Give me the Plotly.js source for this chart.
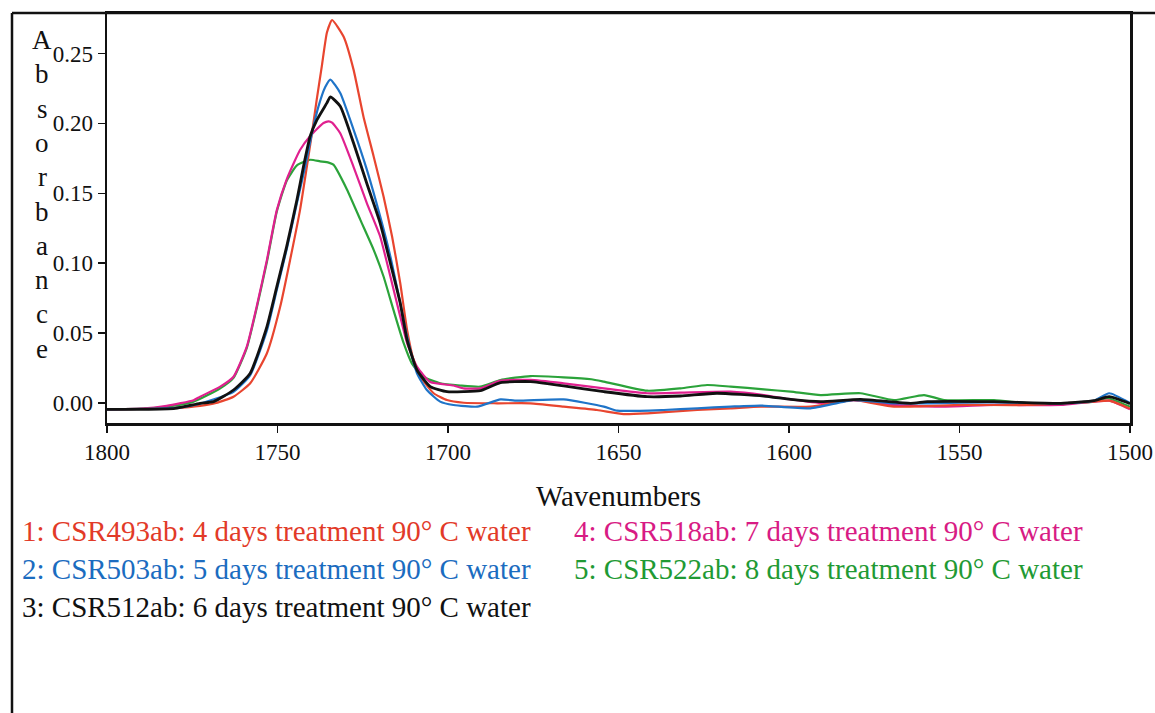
<!DOCTYPE html>
<html>
<head>
<meta charset="utf-8">
<script src="https://cdn.plot.ly/plotly-3.0.1.min.js"></script>
<style>html,body{margin:0;padding:0;background:#fff;}#chart{width:1155px;height:713px;}</style>
</head>
<body>
<div id="chart"></div>
<script>
// Series 1: CSR493ab (red)
const wn1 = [1800,1790,1780,1772.7,1768,1762.9,1758,1753.1,1749.2,1746.3,1743.4,1741.4,1739.9,1738.5,1737,1735.5,1734,1730.6,1727.7,1724.8,1721.8,1718.9,1716.4,1714,1712,1710.1,1708.1,1704.2,1700.3,1695.4,1685.6,1675.8,1666.1,1656.3,1648.5,1641.6,1626.9,1617.1,1608.3,1593.7,1581.1,1569.2,1549.6,1530,1510.5,1506.1,1500];
const ab1 = [-0.0045,-0.0042,-0.0035,-0.002,0.000,0.0045,0.0141,0.0356,0.069,0.1024,0.138,0.169,0.193,0.217,0.241,0.265,0.274,0.262,0.2385,0.205,0.1764,0.1478,0.1191,0.0857,0.0523,0.0308,0.0188,0.007,0.0021,0.0002,-0.0002,-0.0002,-0.0026,-0.005,-0.0079,-0.0074,-0.005,-0.0038,-0.0026,-0.0026,0.0021,-0.0026,-0.0014,-0.0014,0.001,0.0017,-0.004];
// Series 2: CSR503ab (blue)
const wn2 = [1800,1790,1780,1772.7,1762.9,1758,1753.1,1750.2,1747.3,1744.3,1741.9,1739.9,1738,1736,1734.5,1731.6,1727.7,1723.8,1719.9,1716.9,1714,1712,1709.1,1706.2,1702.3,1698.4,1691.4,1684.6,1679.7,1666.1,1654.3,1650.4,1636.7,1626.9,1617.1,1608.3,1593.7,1581.1,1569.2,1559.4,1539.9,1520.3,1510.5,1506.1,1500];
const ab2 = [-0.0045,-0.0042,-0.0035,-0.0005,0.008,0.020,0.052,0.081,0.110,0.143,0.169,0.193,0.212,0.226,0.2314,0.2218,0.1956,0.167,0.1335,0.1048,0.0714,0.0475,0.0213,0.0093,0.001,-0.0014,-0.0026,0.0026,0.0017,0.0026,-0.0026,-0.0055,-0.005,-0.0038,-0.0026,-0.0018,-0.0038,0.0021,-0.0002,-0.0002,0.0005,-0.0002,0.0017,0.007,0.000];
// Series 3: CSR512ab (black)
const wn3 = [1800,1790,1780,1772.7,1768.7,1762.9,1758,1753.1,1750.2,1747.3,1744.3,1742.4,1740.4,1738.4,1735.5,1734.5,1731.6,1727.7,1723.8,1719.9,1716.9,1714,1712,1709.1,1705.2,1700.3,1695.4,1690.5,1684.6,1675.8,1666.1,1654.3,1641.6,1631.8,1621.2,1607.4,1599.5,1590.7,1579,1564.3,1559.4,1539.9,1520.3,1510.5,1506.1,1500];
const ab3 = [-0.0045,-0.0045,-0.0038,-0.0002,0.001,0.0093,0.0213,0.0547,0.0833,0.112,0.1454,0.169,0.191,0.2027,0.2147,0.219,0.2123,0.186,0.157,0.1287,0.100,0.0714,0.0451,0.0236,0.0117,0.0081,0.0081,0.0088,0.0146,0.0153,0.0122,0.0081,0.0045,0.005,0.007,0.005,0.0026,0.001,0.0026,-0.0002,0.001,0.001,-0.0002,0.0017,0.0045,-0.0005];
// Series 4: CSR518ab (magenta)
const wn4 = [1800,1790,1782.5,1774.6,1772.7,1766.8,1762.9,1759,1756.1,1753.1,1750.2,1747.3,1743.4,1740.4,1736.5,1735,1734,1731.6,1727.7,1723.8,1719.9,1716.9,1714,1712,1709.1,1705.2,1698.4,1695.4,1690.5,1684.6,1675.8,1666.1,1654.3,1641.6,1631.8,1617.1,1607.4,1599.5,1590,1581.1,1569.2,1554.5,1539.9,1520.3,1506.1,1500];
const ab4 = [-0.0045,-0.004,-0.002,0.002,0.0045,0.0117,0.0188,0.0403,0.069,0.1024,0.138,0.16,0.181,0.191,0.2003,0.2015,0.2005,0.193,0.169,0.143,0.1191,0.0905,0.0618,0.0428,0.026,0.015,0.0125,0.0105,0.0105,0.016,0.0165,0.0141,0.0105,0.007,0.0074,0.0081,0.0057,0.0026,0.000,0.0021,-0.0014,-0.0026,-0.0014,-0.0014,0.0017,-0.0045];
// Series 5: CSR522ab (green)
const wn5 = [1800,1790,1782,1774.6,1766.8,1762.9,1759,1756.1,1753.1,1750.2,1747.3,1744.3,1740.4,1737.5,1735,1733.6,1729.6,1725.7,1721.8,1718.9,1716,1713,1710.6,1707.2,1702.3,1696.4,1690.5,1684.6,1675.8,1666.1,1658,1654.3,1641.6,1631.8,1624,1617.1,1607.4,1599.5,1590.7,1579,1569.2,1560.4,1554.5,1539.9,1530,1520.3,1510.5,1506.6,1500];
const ab5 = [-0.0045,-0.004,-0.0025,0.001,0.0105,0.018,0.0395,0.068,0.101,0.137,0.159,0.170,0.174,0.1729,0.172,0.1705,0.1526,0.131,0.1096,0.0905,0.0666,0.0428,0.0284,0.0188,0.0141,0.0125,0.0117,0.0165,0.0193,0.0184,0.017,0.0153,0.0088,0.0105,0.0129,0.0117,0.0098,0.0081,0.0057,0.007,0.0021,0.0057,0.0021,0.0021,-0.0002,-0.0002,0.001,0.0034,-0.0026];

const seriesNames = [
  "1: CSR493ab: 4 days treatment 90° C water",
  "2: CSR503ab: 5 days treatment 90° C water",
  "3: CSR512ab: 6 days treatment 90° C water",
  "4: CSR518ab: 7 days treatment 90° C water",
  "5: CSR522ab: 8 days treatment 90° C water"
];
const xTickVals = [1800,1750,1700,1650,1600,1550,1500];
const yTickVals = [0.00,0.05,0.10,0.15,0.20,0.25];
const xTitle = "Wavenumbers";
const yTitle = "Absorbance";

const lineColors = ["#e8452f","#1f74c8","#111111","#e0208f","#2ba33a"];
const textColors = ["#e23a28","#1b6cc0","#111111","#d81b84","#1f9a34"];
const xs = [wn1,wn2,wn3,wn4,wn5];
const ys = [ab1,ab2,ab3,ab4,ab5];
const widths = [2.2,2.2,2.8,2.2,2.2];
const order = [4,3,0,1,2];

const traces = order.map(i => ({
  x: xs[i], y: ys[i], type: "scatter", mode: "lines",
  name: seriesNames[i], showlegend: false,
  line: {color: lineColors[i], width: widths[i], shape: "spline", smoothing: 0.5}
}));

const L = 107, R = 25, T = 13, B = 290, W = 1155, H = 713;
const pw = W - L - R, ph = H - T - B;
const px = v => (v - L) / pw;
const py = v => (H - B - v) / ph;
const serif = "Liberation Serif, Times New Roman, serif";

const annotations = [];
yTitle.split("").forEach((ch, i) => {
  annotations.push({xref:"paper", yref:"paper", x: px(42), y: py(40 + i*34.3),
    xanchor:"center", yanchor:"middle", showarrow:false, text: ch,
    font:{family:serif, size:27, color:"#111"}});
});
const capPos = [[20,531],[20,569],[20,607],[572,531],[572,569]];
seriesNames.forEach((s, i) => {
  annotations.push({xref:"paper", yref:"paper", x: px(capPos[i][0]), y: py(capPos[i][1]),
    xanchor:"left", yanchor:"middle", showarrow:false, text: s,
    font:{family:serif, size:29, color:textColors[i]}});
});

const frameShapes = [
  {type:"line", xref:"paper", yref:"paper", x0:px(12), x1:px(1155), y0:py(13), y1:py(13), line:{color:"#111", width:2.5}},
  {type:"line", xref:"paper", yref:"paper", x0:px(12), x1:px(12), y0:py(13), y1:py(713), line:{color:"#111", width:2.5}}
];

const layout = {
  width: W, height: H,
  margin: {l:L, r:R, t:T, b:B, pad:0},
  paper_bgcolor:"#ffffff", plot_bgcolor:"#ffffff",
  font: {family:serif, color:"#111"},
  xaxis: {
    range:[1800,1500], tickvals:xTickVals, ticktext:xTickVals.map(String),
    ticks:"outside", ticklen:7, tickwidth:1.5, tickcolor:"#111",
    showline:true, mirror:true, linecolor:"#111", linewidth:2.5,
    showgrid:false, zeroline:false,
    tickfont:{size:23, color:"#111"},
    ticklabelstandoff: 0,
    title:{text:xTitle, font:{size:29, color:"#111"}, standoff:22}
  },
  yaxis: {
    range:[-0.0143, 0.279], tickvals:yTickVals, ticktext:yTickVals.map(v=>v.toFixed(2)),
    ticks:"outside", ticklen:7, tickwidth:1.5, tickcolor:"#111",
    showline:true, mirror:true, linecolor:"#111", linewidth:2.5,
    showgrid:false, zeroline:false,
    tickfont:{size:23, color:"#111"},
    ticklabelstandoff: 0
  },
  annotations: annotations,
  shapes: frameShapes
};

Plotly.newPlot("chart", traces, layout, {displayModeBar:false, staticPlot:true});
</script>
</body>
</html>
